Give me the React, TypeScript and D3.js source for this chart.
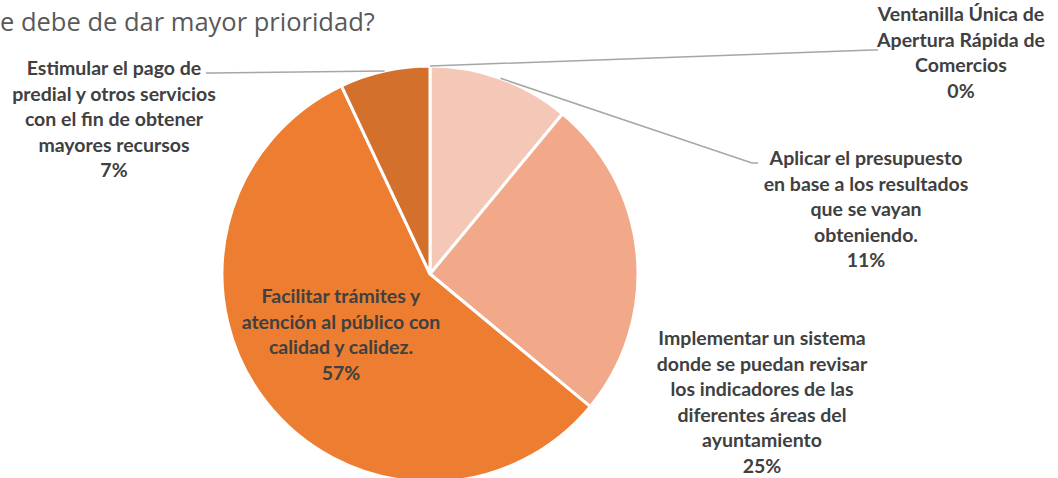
import React from "react";
import * as d3 from "d3";

const categories = [
  "Ventanilla Única de Apertura Rápida de Comercios",
  "Aplicar el presupuesto en base a los resultados que se vayan obteniendo.",
  "Implementar un sistema donde se puedan revisar los indicadores de las diferentes áreas del ayuntamiento",
  "Facilitar trámites y atención al público con calidad y calidez.",
  "Estimular el pago de predial y otros servicios con el fin de obtener mayores recursos",
];
const values = [0, 11, 25, 57, 7];
const percentLabels = ["0%", "11%", "25%", "57%", "7%"];
const labelLines = [
  ["Ventanilla Única de", "Apertura Rápida de", "Comercios"],
  ["Aplicar el presupuesto", "en base a los resultados", "que se vayan", "obteniendo."],
  ["Implementar un sistema", "donde se puedan revisar", "los indicadores de las", "diferentes áreas del", "ayuntamiento"],
  ["Facilitar trámites y", "atención al público con", "calidad y calidez."],
  ["Estimular el pago de", "predial y otros servicios", "con el fin de obtener", "mayores recursos"],
];
const colors = ["#E9967A", "#F5C7B6", "#F1A98A", "#ED7D31", "#D3702B"];
const titleText = "e debe de dar mayor prioridad?";

const W = 1058;
const H = 478;
const cx = 430;
const cy = 274;
const R = 208;
const lineH = 25.6;

// label layout: center x, first-line baseline y, leader elbow
const labelPos = [
  { x: 961, y: 21, leader: [[872, 50], [878, 50]] },
  { x: 866, y: 165, leader: [[752, 163], [758, 163]] },
  { x: 762, y: 345, leader: null },
  { x: 341, y: 303, leader: null },
  { x: 114, y: 75, leader: [[212, 73], [206, 73]] },
];

export default function App() {
  const pie = d3
    .pie<number>()
    .sort(null)
    .value((d) => d)
    .startAngle(0)
    .endAngle(2 * Math.PI);
  const arcs = pie(values);
  const arc = d3.arc<d3.PieArcDatum<number>>().innerRadius(0).outerRadius(R);

  return (
    <svg
      width={W}
      height={H}
      style={{ position: "absolute", left: 0, top: 0, background: "#fff" }}
      fontFamily="Lato, 'Open Sans', sans-serif"
    >
      <text x={0} y={31} fontSize={25.5} fill="#595959" fontFamily="'Open Sans', sans-serif">
        {titleText}
      </text>
      <g transform={`translate(${cx},${cy})`}>
        {arcs.map((a, i) => (
          <path
            key={categories[i]}
            d={arc(a) || ""}
            fill={colors[i]}
            stroke="#fff"
            strokeWidth={a.value > 0 ? 3 : 0}
          />
        ))}
      </g>
      {arcs.map((a, i) => {
        const p = labelPos[i];
        if (!p.leader) return null;
        const mid = (a.startAngle + a.endAngle) / 2;
        const sx = cx + R * Math.sin(mid);
        const sy = cy - R * Math.cos(mid);
        const pts = [[sx, sy], ...p.leader];
        return (
          <polyline
            key={"l" + i}
            points={pts.map((q) => q.join(",")).join(" ")}
            fill="none"
            stroke="#A6A6A6"
            strokeWidth={1.5}
          />
        );
      })}
      {labelLines.map((lines, i) => {
        const p = labelPos[i];
        const all = [...lines, percentLabels[i]];
        return (
          <text
            key={"t" + i}
            textAnchor="middle"
            fontSize={19.5}
            fontWeight={700}
            fill="#404040"
          >
            {all.map((s, j) => (
              <tspan key={j} x={p.x} y={p.y + j * lineH}>
                {s}
              </tspan>
            ))}
          </text>
        );
      })}
    </svg>
  );
}
